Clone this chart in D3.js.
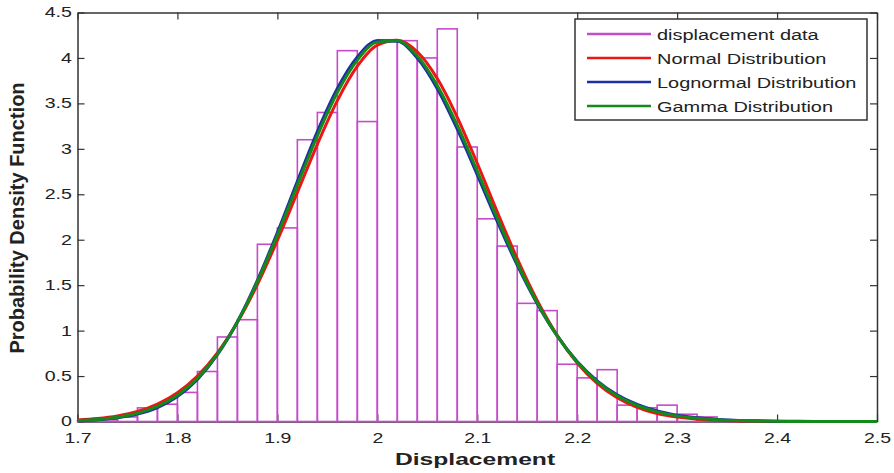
<!DOCTYPE html>
<html>
<head>
<meta charset="utf-8">
<script src="https://cdn.jsdelivr.net/npm/d3@7"></script>
<style>
  body { margin: 0; background: #fff; }
  text { font-family: "Liberation Sans", Arial, sans-serif; fill: #222; }
</style>
</head>
<body>
<svg id="chart"></svg>
<script>
// histogram bins (left edge) and density
var binLeft = [1.70, 1.72, 1.74, 1.76, 1.78, 1.80, 1.82, 1.84, 1.86, 1.88, 1.90, 1.92, 1.94, 1.96, 1.98,
               2.00, 2.02, 2.04, 2.06, 2.08, 2.10, 2.12, 2.14, 2.16, 2.18, 2.20, 2.22, 2.24, 2.26, 2.28,
               2.30, 2.32, 2.34];
var binDensity = [0.01, 0.02, 0.05, 0.15, 0.19, 0.32, 0.55, 0.93, 1.12, 1.95, 2.13, 3.10, 3.40, 4.08, 3.30,
                  4.20, 4.19, 4.00, 4.32, 3.02, 2.23, 1.93, 1.30, 1.22, 0.63, 0.48, 0.57, 0.18, 0.15, 0.18,
                  0.08, 0.05, 0.02];
var binWidth = 0.02;

// fitted curves, sampled along displacement
var curveX = [1.70, 1.72, 1.74, 1.76, 1.78, 1.80, 1.82, 1.84, 1.86, 1.88, 1.90, 1.92, 1.94, 1.96, 1.98,
              2.00, 2.02, 2.04, 2.06, 2.08, 2.10, 2.12, 2.14, 2.16, 2.18, 2.20, 2.22, 2.24, 2.26, 2.28,
              2.30, 2.32, 2.34, 2.36, 2.38, 2.40, 2.42, 2.44, 2.46, 2.48, 2.50];
var normalY = [0.017, 0.033, 0.062, 0.111, 0.192, 0.317, 0.500, 0.755, 1.091, 1.507, 1.993, 2.521, 3.050, 3.530, 3.909,
               4.141, 4.196, 4.068, 3.773, 3.347, 2.841, 2.307, 1.792, 1.331, 0.947, 0.644, 0.419, 0.261, 0.155, 0.088,
               0.048, 0.025, 0.013, 0.006, 0.003, 0.001, 0, 0, 0, 0, 0];
var lognormalY = [0.008, 0.018, 0.040, 0.081, 0.154, 0.275, 0.463, 0.735, 1.098, 1.553, 2.080, 2.643, 3.190, 3.663, 4.010,
                  4.190, 4.184, 3.998, 3.661, 3.216, 2.714, 2.202, 1.720, 1.295, 0.941, 0.660, 0.448, 0.294, 0.187, 0.115,
                  0.069, 0.040, 0.023, 0.012, 0.007, 0.004, 0.002, 0.001, 0, 0, 0];
var gammaY = [0.011, 0.023, 0.047, 0.091, 0.167, 0.289, 0.475, 0.742, 1.096, 1.538, 2.051, 2.602, 3.143, 3.619, 3.976,
              4.174, 4.188, 4.021, 3.698, 3.260, 2.756, 2.237, 1.744, 1.307, 0.943, 0.655, 0.438, 0.283, 0.176, 0.106,
              0.062, 0.035, 0.019, 0.010, 0.005, 0.002, 0.001, 0, 0, 0, 0];

var xTicks = [1.7, 1.8, 1.9, 2.0, 2.1, 2.2, 2.3, 2.4, 2.5];
var yTicks = [0, 0.5, 1, 1.5, 2, 2.5, 3, 3.5, 4, 4.5];
var legendNames = ["displacement data", "Normal Distribution", "Lognormal Distribution", "Gamma Distribution"];
var legendColors = ["#c64bca", "#ee1515", "#1c2ea8", "#138a1a"];

var width = 894, height = 473;
var x = d3.scaleLinear().domain([1.7, 2.5]).range([77.5, 877]);
var y = d3.scaleLinear().domain([0, 4.5]).range([421.5, 12.5]);

var svg = d3.select("#chart").attr("width", width).attr("height", height);

// axes (ticks point inward)
var fmt = function (d) { return d3.format("")(+d.toFixed(1)); };

var gx = svg.append("g").attr("transform", "translate(0," + y(0) + ")")
    .call(d3.axisBottom(x).tickValues(xTicks).tickSizeInner(-7).tickSizeOuter(0).tickPadding(11).tickFormat(fmt));
gx.selectAll("text").attr("font-size", 15).attr("transform", "scale(1.3,1)");

var gxTop = svg.append("g").attr("transform", "translate(0," + y(4.5) + ")")
    .call(d3.axisTop(x).tickValues(xTicks).tickSizeInner(-7).tickSizeOuter(0).tickFormat(""));

var gy = svg.append("g").attr("transform", "translate(" + x(1.7) + ",0)")
    .call(d3.axisLeft(y).tickValues(yTicks).tickSizeInner(-7).tickSizeOuter(0).tickFormat(fmt));
gy.selectAll("text").attr("font-size", 14).attr("x", -4).attr("transform", "scale(1.4,1)");

var gyRight = svg.append("g").attr("transform", "translate(" + x(2.5) + ",0)")
    .call(d3.axisRight(y).tickValues(yTicks).tickSizeInner(-7).tickSizeOuter(0).tickFormat(""));

[gx, gxTop, gy, gyRight].forEach(function (g) {
    g.select(".domain").attr("stroke", "#333").attr("stroke-width", 1.5);
    g.selectAll(".tick line").attr("stroke", "#333").attr("stroke-width", 1.2);
    g.selectAll("text").attr("fill", "#222").attr("font-family", "Liberation Sans, Arial, sans-serif");
});

// histogram
svg.append("g").selectAll("rect")
    .data(binLeft)
    .enter().append("rect")
    .attr("x", function (d) { return x(d); })
    .attr("y", function (d, i) { return y(binDensity[i]); })
    .attr("width", function (d) { return x(d + binWidth) - x(d); })
    .attr("height", function (d, i) { return y(0) - y(binDensity[i]); })
    .attr("fill", "none")
    .attr("stroke", legendColors[0])
    .attr("stroke-width", 1.6);

// fitted pdf curves
var line = d3.line()
    .x(function (d) { return x(d[0]); })
    .y(function (d) { return y(d[1]); })
    .curve(d3.curveMonotoneX);

[normalY, lognormalY, gammaY].forEach(function (vals, k) {
    svg.append("path")
        .datum(curveX.map(function (v, i) { return [v, vals[i]]; }))
        .attr("d", line)
        .attr("fill", "none")
        .attr("stroke", legendColors[k + 1])
        .attr("stroke-width", 3);
});

// axis titles
svg.append("text")
    .attr("transform", "translate(" + 475 + ",465) scale(1.45,1)")
    .attr("text-anchor", "middle")
    .attr("font-size", 17)
    .attr("font-weight", "bold")
    .text("Displacement");

svg.append("text")
    .attr("transform", "translate(24,218) rotate(-90)")
    .attr("text-anchor", "middle")
    .attr("font-size", 20)
    .attr("font-weight", "bold")
    .text("Probability Density Function");

// legend
var legend = svg.append("g");
legend.append("rect")
    .attr("x", 575).attr("y", 19)
    .attr("width", 292).attr("height", 101)
    .attr("fill", "#fff")
    .attr("stroke", "#333")
    .attr("stroke-width", 1.5);

var items = legend.selectAll(".item")
    .data(legendNames)
    .enter().append("g")
    .attr("class", "item")
    .attr("transform", function (d, i) { return "translate(0," + (34 + i * 24) + ")"; });

items.append("line")
    .attr("x1", 587).attr("x2", 651)
    .attr("y1", 0).attr("y2", 0)
    .attr("stroke", function (d, i) { return legendColors[i]; })
    .attr("stroke-width", 2.5);

items.append("text")
    .attr("transform", "translate(657,5.5) scale(1.33,1)")
    .attr("font-size", 15)
    .text(function (d) { return d; });
</script>
</body>
</html>
